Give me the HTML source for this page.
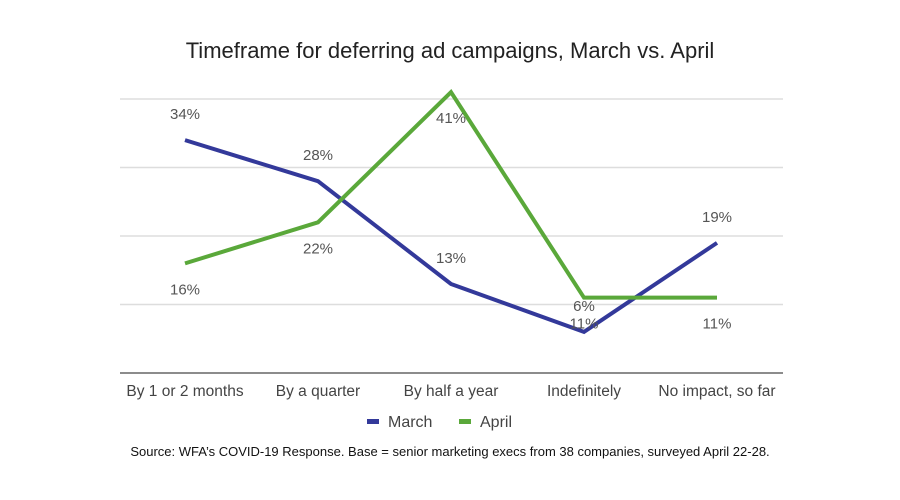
<!DOCTYPE html>
<html><head><meta charset="utf-8"><style>
body{margin:0;background:#fff;}
svg{display:block;font-family:"Liberation Sans",sans-serif;}
</style></head><body>
<svg id="chart" width="900" height="500" viewBox="0 0 900 500">
<text x="450" y="58" text-anchor="middle" font-size="22" fill="#222">Timeframe for deferring ad campaigns, March vs. April</text>
<g id="grid"></g><g id="xlabels"></g><g id="lines"></g><g id="vlabels"></g>
<g>
<rect x="367" y="419" width="12" height="5" fill="#33399a"/>
<text x="388" y="427" font-size="16" fill="#444">March</text>
<rect x="459" y="419" width="12" height="5" fill="#5aa83a"/>
<text x="480" y="427" font-size="16" fill="#444">April</text>
</g>
<text x="450" y="456" text-anchor="middle" font-size="13" fill="#111">Source: WFA’s COVID-19 Response.  Base = senior marketing execs from 38 companies, surveyed April 22-28.</text>
</svg>
<script>
const categories=["By 1 or 2 months","By a quarter","By half a year","Indefinitely","No impact, so far"];
const march=[34,28,13,6,19];
const april=[16,22,41,11,11];
const yTicks=[0,10,20,30,40];
const NS="http://www.w3.org/2000/svg";
const x0=185,dx=133,yBase=373,k=6.85;
const xs=i=>x0+i*dx, ys=v=>yBase-v*k;
function mk(t,a,p){const e=document.createElementNS(NS,t);for(const q in a)e.setAttribute(q,a[q]);p.appendChild(e);return e;}
const grid=document.getElementById('grid');
yTicks.forEach(v=>{const l=mk('line',{x1:120,x2:783,y1:ys(v),y2:ys(v),stroke:v===0?'#666':'#ddd','stroke-width':1.5},grid);

});
const xl=document.getElementById('xlabels');
categories.forEach((c,i)=>{const t=mk('text',{x:xs(i),y:396,'text-anchor':'middle','font-size':15.5,fill:'#444'},xl);t.textContent=c;

});
const lines=document.getElementById('lines'),vl=document.getElementById('vlabels');
[[march,'#33399a','march',-21],[april,'#5aa83a','april',31]].forEach(([d,col,n,off])=>{
const p=mk('polyline',{points:d.map((v,i)=>xs(i)+','+ys(v)).join(' '),fill:'none',stroke:col,'stroke-width':4,'stroke-linejoin':'miter'},lines);


d.forEach((v,i)=>{const t=mk('text',{x:xs(i),y:ys(v)+off,'text-anchor':'middle','font-size':15,fill:'#555'},vl);t.textContent=v+'%';

});
});
</script>
</body></html>
